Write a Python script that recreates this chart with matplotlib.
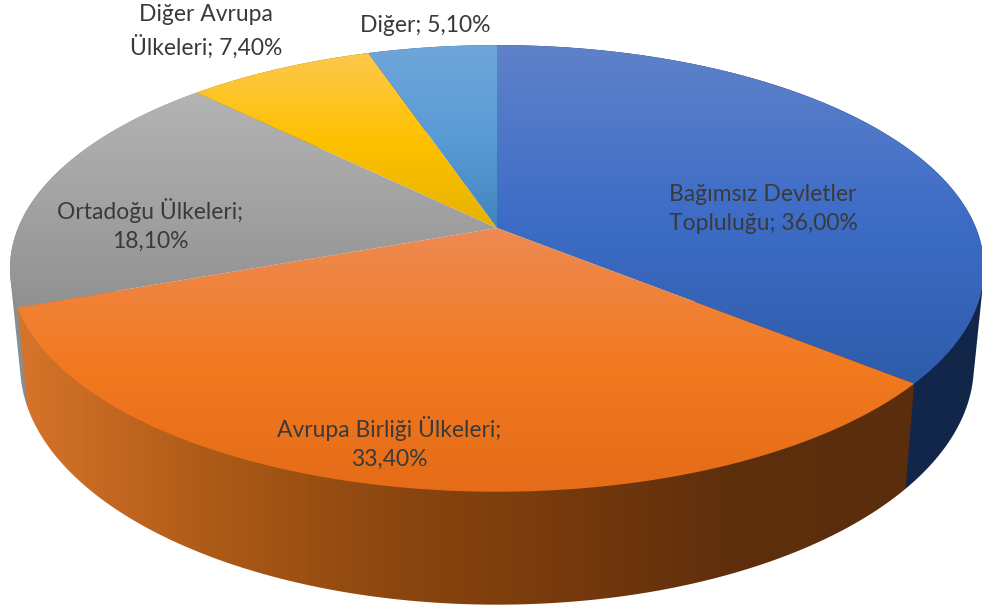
import numpy as np
import matplotlib
matplotlib.use('Agg')
import matplotlib.pyplot as plt
from matplotlib.colors import LinearSegmentedColormap
from matplotlib.patches import Polygon

labels = ['Bağımsız Devletler\nTopluluğu; 36,00%', 'Avrupa Birliği Ülkeleri;\n33,40%',
          'Ortadoğu Ülkeleri;\n18,10%', 'Diğer Avrupa\nÜlkeleri; 7,40%', 'Diğer; 5,10%']
values = [36.0, 33.4, 18.1, 7.4, 5.1]
label_pos = [(763, 209), (389, 443), (150, 225), (206, 31), (425, 25)]

# top face colours, each slice from its top edge to its bottom edge
top_colors = [['#5f82c9', '#3e6dc7', '#2d5cab'],
              ['#ee8a54', '#f27a20', '#e56c18'],
              ['#b4b4b4', '#a3a3a3', '#919191'],
              ['#fec84c', '#fdc100', '#e6b200'],
              ['#6fa6d9', '#5a9bd6', '#4285bd']]
# side colours, from left to right
side_colors = [['#16305c', '#14294f', '#12264a'],
               ['#d6742a', '#b05c18', '#8e4810', '#783a0d', '#5e2f0c', '#5a2d0c'],
               ['#8a8f95', '#70757b'],
               ['#a07800', '#805f00'],
               ['#2f5f8c', '#264c70']]

CX = 497
TOP = dict(r=479, a=216, k=0.181, c=228)
BOTTOM = dict(r=469, a=231.5, k=0.181, c=322)


def project(t, plane):
    '''t - kąt liczony zgodnie z zegarem od góry, w stopniach'''
    t = np.radians(t)
    d = 1 + plane['k'] * np.cos(t)
    return CX + plane['r'] * np.sin(t) / d, plane['c'] - plane['a'] * np.cos(t) / d


def convex_hull(pts):
    pts = sorted(set(map(tuple, pts)))

    def half(points):
        out = []
        for p in points:
            while len(out) > 1 and ((out[-1][0] - out[-2][0]) * (p[1] - out[-2][1])
                                    - (out[-1][1] - out[-2][1]) * (p[0] - out[-2][0])) <= 0:
                out.pop()
            out.append(p)
        return out[:-1]

    return np.array(half(pts) + half(pts[::-1]))


def gradient(ax, colors, poly, vertical):
    cmap = LinearSegmentedColormap.from_list('g', colors)
    grad = np.linspace(0, 1, 256)
    xy = poly.get_xy()
    if vertical:
        grad = grad[:, None]
        extent = (0, 982, xy[:, 1].max(), xy[:, 1].min())
    else:
        grad = grad[None, :]
        extent = (xy[:, 0].min(), xy[:, 0].max(), 608, 0)
    im = ax.imshow(grad, cmap=cmap, extent=extent, aspect='auto', interpolation='bilinear', zorder=poly.get_zorder())
    ax.add_patch(poly)
    poly.set_facecolor('none')
    im.set_clip_path(poly)
    return im


fig = plt.figure(figsize=(9.82, 6.08), dpi=100)
ax = fig.add_axes([0, 0, 1, 1])
ax.set_axis_off()

edges = np.concatenate([[0], np.cumsum(values)]) * 3.6

# boki wycinków, od tylnych do przednich
order = [4, 3, 0, 2, 1]
for n, i in enumerate(order):
    t = np.linspace(edges[i], edges[i + 1], 200)
    xt, yt = project(t, TOP)
    xb, yb = project(t, BOTTOM)
    pts = convex_hull(np.column_stack([np.r_[xt, xb], np.r_[yt, yb]]))
    poly = Polygon(pts, closed=True, edgecolor='none', zorder=2 + 0.01 * n)
    gradient(ax, side_colors[i], poly, False)

# górne powierzchnie
for i in range(len(values)):
    t = np.linspace(edges[i], edges[i + 1], 300)
    xt, yt = project(t, TOP)
    pts = np.column_stack([np.r_[CX, xt], np.r_[TOP['c'], yt]])
    poly = Polygon(pts, closed=True, edgecolor='none', zorder=3)
    gradient(ax, top_colors[i], poly, True)

for label, (x, y) in zip(labels, label_pos):
    ax.text(x, y, label, ha='center', va='center', fontsize=16.5, family='Lato', color='#3a3a3a',
            linespacing=1.48, zorder=5)

ax.set_xlim(0, 982)
ax.set_ylim(608, 0)
fig.savefig('out.png', dpi=100, facecolor='white')
